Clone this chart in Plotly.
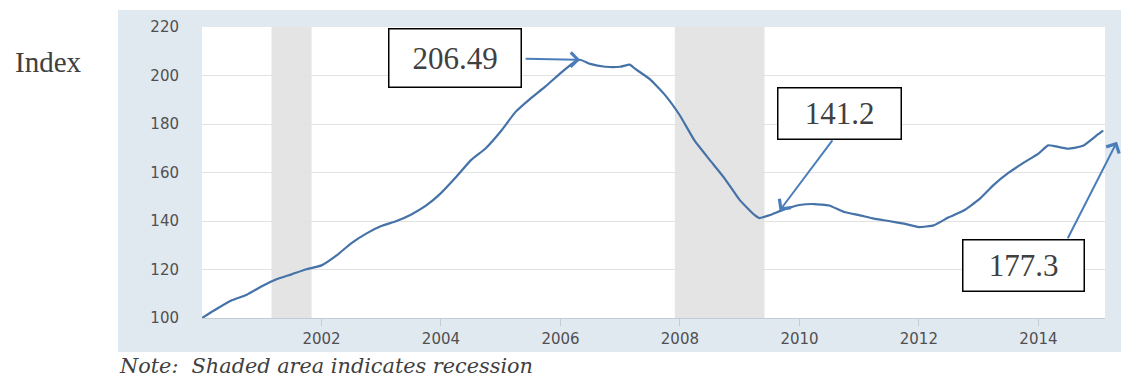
import plotly.graph_objects as go

# ---- data ----
dates = [
    "2000-01-01", "2000-04-01", "2000-07-01", "2000-10-01",
    "2001-01-01", "2001-04-01", "2001-07-01", "2001-10-01",
    "2002-01-01", "2002-04-01", "2002-07-01", "2002-10-01",
    "2003-01-01", "2003-04-01", "2003-07-01", "2003-10-01",
    "2004-01-01", "2004-04-01", "2004-07-01", "2004-10-01",
    "2005-01-01", "2005-04-01", "2005-07-01", "2005-10-01",
    "2006-01-01", "2006-04-01", "2006-05-01", "2006-07-01", "2006-10-01",
    "2007-01-01", "2007-03-01", "2007-04-01", "2007-07-01", "2007-10-01",
    "2008-01-01", "2008-04-01", "2008-07-01", "2008-10-01",
    "2009-01-01", "2009-04-01", "2009-05-01", "2009-07-01", "2009-10-01",
    "2010-01-01", "2010-04-01", "2010-07-01", "2010-10-01",
    "2011-01-01", "2011-04-01", "2011-07-01", "2011-10-01",
    "2012-01-01", "2012-04-01", "2012-07-01", "2012-10-01",
    "2013-01-01", "2013-04-01", "2013-07-01", "2013-10-01",
    "2014-01-01", "2014-03-01", "2014-04-01", "2014-07-01", "2014-10-01",
    "2015-01-01", "2015-02-01",
]
index_values = [
    100.0, 103.8, 107.3, 109.6,
    113.1, 116.0, 118.0, 120.1,
    121.7, 125.7, 130.8, 134.8,
    137.9, 139.9, 142.6, 146.3,
    151.5, 158.0, 165.0, 170.0,
    177.0, 185.0, 190.5, 195.5,
    201.0, 205.8, 206.49, 204.8, 203.6,
    203.6, 204.5, 202.8, 198.5, 192.0,
    183.5, 173.0, 165.2, 157.5,
    148.6, 142.5, 141.2, 142.4, 144.8,
    146.6, 147.0, 146.4, 143.7,
    142.4, 141.0, 140.0, 138.9,
    137.5, 138.2, 141.5, 144.3,
    148.8, 154.8, 159.8, 164.0,
    167.8, 171.2, 171.0, 169.8, 171.0,
    175.8, 177.3,
]
recession_starts = ["2001-03-01", "2007-12-01"]
recession_ends = ["2001-11-01", "2009-06-01"]

y_ticks = [100, 120, 140, 160, 180, 200, 220]
x_ticks = ["2002-01-01", "2004-01-01", "2006-01-01", "2008-01-01",
           "2010-01-01", "2012-01-01", "2014-01-01"]
x_tick_labels = ["2002", "2004", "2006", "2008", "2010", "2012", "2014"]

peak_label, peak_date, peak_value = "206.49", "2006-05-01", 206.49
trough_label, trough_tip_date, trough_tip_value = "141.2", "2009-09-01", 144.2
latest_label, latest_tip_value = "177.3", 172.7

y_title = "Index"
note_text = "Note:  Shaded area indicates recession"

# ---- styling ----
W, H = 1121, 379
L, R, T, B = 202, 16, 27, 61
PW, PH = W - L - R, H - T - B


def px_x(px):
    return (px - L) / PW


def px_y(py):
    return (H - B - py) / PH


LINE_COLOR = "#4572a7"
ARROW_COLOR = "#4a7ebb"
PANEL = "#e1e9f0"
TEXT_DARK = "#404040"
SERIF = "Liberation Serif"
TICK_FONT = dict(family="DejaVu Sans", size=15, color="#505050")

fig = go.Figure()
fig.add_trace(go.Scatter(
    x=dates, y=index_values, mode="lines",
    line=dict(color=LINE_COLOR, width=2.2, shape="spline", smoothing=0.4),
    showlegend=False, hoverinfo="x+y",
))

shapes = [
    dict(type="rect", xref="paper", yref="paper",
         x0=px_x(118), x1=px_x(1121), y0=px_y(352), y1=px_y(10),
         fillcolor=PANEL, line=dict(width=0), layer="below"),
    dict(type="rect", xref="paper", yref="paper",
         x0=0, x1=1, y0=0, y1=1,
         fillcolor="white", line=dict(width=0), layer="below"),
]
for s, e in zip(recession_starts, recession_ends):
    shapes.append(dict(type="rect", xref="x", yref="paper", x0=s, x1=e, y0=0, y1=1,
                       fillcolor="#e4e4e4", line=dict(width=0), layer="below"))

box_font = dict(family=SERIF, size=31, color=TEXT_DARK)
annotations = [
    # text boxes
    dict(xref="paper", yref="paper", x=px_x(455), y=px_y(58), text=peak_label,
         showarrow=False, font=box_font, bgcolor="white", bordercolor="black",
         borderwidth=1.5, borderpad=0, width=131, height=57,
         xanchor="center", yanchor="middle"),
    dict(xref="paper", yref="paper", x=px_x(839.5), y=px_y(113.5), text=trough_label,
         showarrow=False, font=box_font, bgcolor="white", bordercolor="black",
         borderwidth=1.5, borderpad=0, width=122, height=50,
         xanchor="center", yanchor="middle"),
    dict(xref="paper", yref="paper", x=px_x(1023.5), y=px_y(265.5), text=latest_label,
         showarrow=False, font=box_font, bgcolor="white", bordercolor="black",
         borderwidth=1.5, borderpad=0, width=120, height=50,
         xanchor="center", yanchor="middle"),
    # arrows
    dict(xref="x", yref="y", x=peak_date, y=peak_value, text="",
         showarrow=True, arrowhead=4, arrowsize=1.4, arrowwidth=2,
         arrowcolor=ARROW_COLOR, ax=-56, ay=-1),
    dict(xref="x", yref="y", x=trough_tip_date, y=trough_tip_value, text="",
         showarrow=True, arrowhead=4, arrowsize=1.4, arrowwidth=2,
         arrowcolor=ARROW_COLOR, ax=54, ay=-72),
    dict(xref="paper", yref="y", x=px_x(1117), y=latest_tip_value, text="",
         showarrow=True, arrowhead=4, arrowsize=1.4, arrowwidth=2,
         arrowcolor=ARROW_COLOR, ax=-50, ay=98),
    # axis title and note
    dict(xref="paper", yref="paper", x=px_x(48), y=px_y(62), text=y_title,
         showarrow=False, font=dict(family=SERIF, size=29, color=TEXT_DARK),
         xanchor="center", yanchor="middle"),
    dict(xref="paper", yref="paper", x=px_x(117), y=px_y(366), text=note_text,
         showarrow=False,
         font=dict(family="DejaVu Serif", size=20.8, color=TEXT_DARK, style="italic"),
         xanchor="left", yanchor="middle"),
]

fig.update_layout(
    width=W, height=H,
    margin=dict(l=L, r=R, t=T, b=B, pad=0),
    paper_bgcolor="white", plot_bgcolor="white",
    shapes=shapes, annotations=annotations,
    showlegend=False,
    xaxis=dict(
        type="date", range=["2000-01-01", "2015-02-12"],
        tickvals=x_ticks, ticktext=x_tick_labels,
        ticks="outside", ticklen=7, tickwidth=1, tickcolor="#c4ccd6",
        showgrid=False, showline=True, linecolor="#c4ccd6", linewidth=1,
        tickfont=TICK_FONT, zeroline=False,
    ),
    yaxis=dict(
        range=[100, 220], tickvals=y_ticks,
        showgrid=True, gridcolor="#e2e2e2", gridwidth=1,
        ticks="", ticklabelstandoff=22,
        tickfont=TICK_FONT, zeroline=False, showline=False,
    ),
)

fig.write_html("out.html")
